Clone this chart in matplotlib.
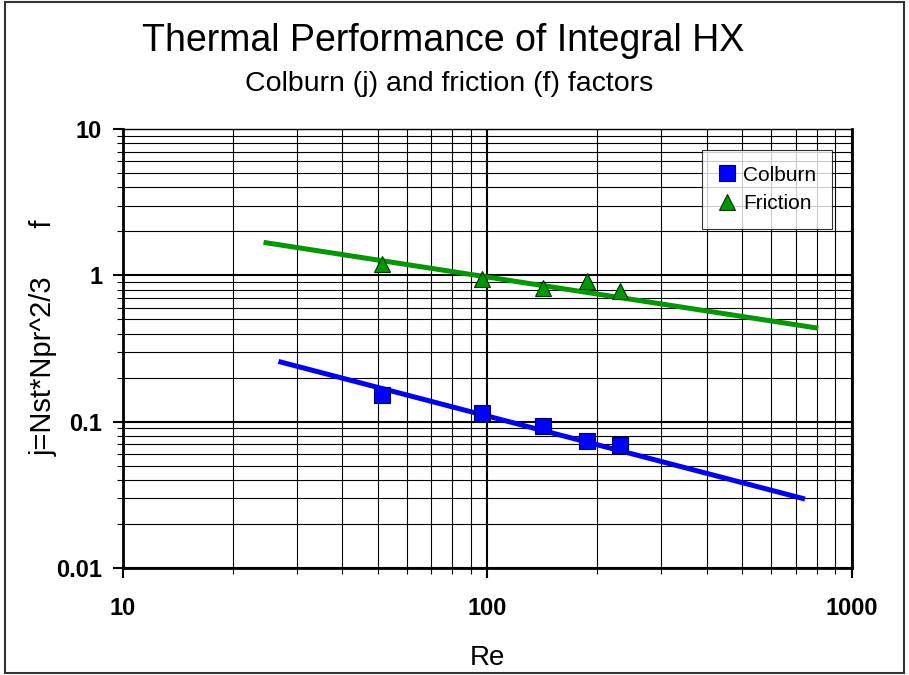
import matplotlib
matplotlib.use('Agg')
import matplotlib.pyplot as plt
from matplotlib.ticker import LogLocator, NullFormatter, FixedLocator, FixedFormatter

plt.rcParams['font.family'] = ['Liberation Sans', 'DejaVu Sans']

# --- data ---
re_pts = [51.2, 96.8, 142, 188, 231]
colburn_j = [0.152, 0.114, 0.094, 0.0736, 0.0695]
friction_f = [1.19, 0.945, 0.816, 0.916, 0.782]

# fitted trend lines (end points)
colburn_fit_re = [26.7, 743]
colburn_fit_j = [0.258, 0.0296]
friction_fit_re = [24.3, 808]
friction_fit_f = [1.68, 0.435]

xticks = [10, 100, 1000]
xtick_labels = ['10', '100', '1000']
yticks = [0.01, 0.1, 1, 10]
ytick_labels = ['0.01', '0.1', '1', '10']

fig = plt.figure(figsize=(9.09, 6.75), dpi=100)
ax = fig.add_axes([0.1353, 0.1585, 0.8020, 0.6504])

ax.set_xscale('log')
ax.set_yscale('log')
ax.set_xlim(10, 1000)
ax.set_ylim(0.01, 10)

ax.plot(colburn_fit_re, colburn_fit_j, color='#0000ff', lw=3.6, solid_capstyle='butt', zorder=3)
ax.plot(friction_fit_re, friction_fit_f, color='#009900', lw=3.6, solid_capstyle='butt', zorder=3)
ax.plot(re_pts, colburn_j, 's', color='#0000ff', markeredgecolor='#000066', markeredgewidth=0.8,
        markersize=12, label='Colburn', zorder=4)
ax.plot(re_pts, friction_f, '^', color='#009900', markeredgecolor='#003300', markeredgewidth=0.8,
        markersize=11.5, label='Friction', zorder=4)

ax.xaxis.set_major_locator(FixedLocator(xticks))
ax.xaxis.set_major_formatter(FixedFormatter(xtick_labels))
ax.yaxis.set_major_locator(FixedLocator(yticks))
ax.yaxis.set_major_formatter(FixedFormatter(ytick_labels))
ax.xaxis.set_minor_locator(LogLocator(base=10, subs=range(2, 10)))
ax.yaxis.set_minor_locator(LogLocator(base=10, subs=range(2, 10)))
ax.xaxis.set_minor_formatter(NullFormatter())
ax.yaxis.set_minor_formatter(NullFormatter())

ax.grid(which='major', color='black', lw=1.5)
ax.grid(which='minor', color='black', lw=0.8)
ax.set_axisbelow(True)

ax.tick_params(which='major', direction='out', length=7, width=1.5, labelsize=17, pad=8)
ax.tick_params(axis='x', which='major', pad=14)
ax.tick_params(which='minor', direction='out', length=4, width=0.8)
for lab in ax.get_xticklabels() + ax.get_yticklabels():
    lab.set_fontweight('bold')

for side in ['left', 'bottom', 'right']:
    ax.spines[side].set_linewidth(2)
ax.spines['top'].set_linewidth(1)

ax.set_xlabel('Re', fontsize=20, labelpad=18)
ax.set_ylabel('j=Nst*Npr^2/3      f', fontsize=21)
ax.yaxis.set_label_coords(-0.09, 0.524)

fig.text(0.488, 0.939, 'Thermal Performance of Integral HX', ha='center', va='center', fontsize=27)
fig.text(0.494, 0.875, 'Colburn (j) and friction (f) factors', ha='center', va='center', fontsize=20.5)

leg = ax.legend(loc='upper right', bbox_to_anchor=(0.9726, 0.952), borderaxespad=0,
                fontsize=15, frameon=True, fancybox=False, edgecolor='black', borderpad=0.75,
                handletextpad=0.35, handlelength=0.9, labelspacing=0.45)
leg.get_frame().set_linewidth(0.8)

# outer border around the whole chart
fig.patches.append(plt.Rectangle((0.005, 0.003), 0.99, 0.994, transform=fig.transFigure,
                                 fill=False, edgecolor='#333333', lw=1.5))

fig.savefig('out.png', dpi=100)
